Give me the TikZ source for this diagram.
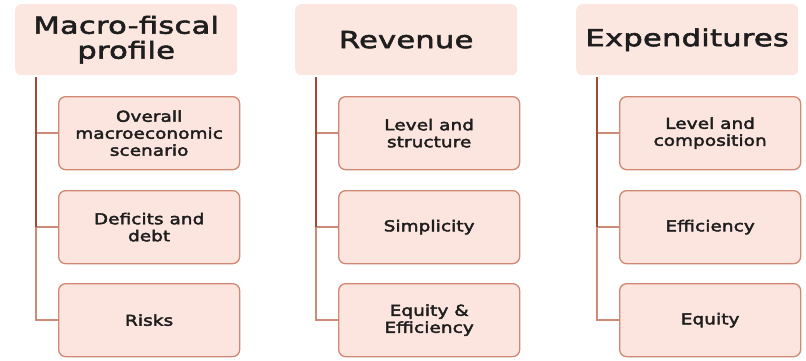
\documentclass[tikz,border=0pt]{standalone}
\usepackage{fontspec}
\setmainfont{DejaVu Sans}
\newfontfamily\hdrfont[FakeStretch=1.3,LetterSpace=1,FakeBold=2.4]{DejaVu Sans}
\newfontfamily\subfont[FakeStretch=1.22,LetterSpace=1,FakeBold=2.8]{DejaVu Sans}
\definecolor{hdrfill}{HTML}{FCE6E0}
\definecolor{boxfill}{HTML}{FCE5DE}
\definecolor{boxline}{HTML}{D08872}
\definecolor{darkline}{HTML}{A34A33}
\definecolor{lightline}{HTML}{CC8A77}
\definecolor{txt}{HTML}{1E1E1E}
\tikzset{
  hdr/.style={rectangle, rounded corners=6pt, fill=hdrfill, draw=none,
    minimum width=222pt, minimum height=71pt, align=center, text=txt,
    font=\hdrfont\fontsize{23.5}{25}\selectfont, anchor=north west, inner sep=0pt},
  sub/.style={rectangle, rounded corners=7pt, fill=boxfill, draw=boxline, line width=1.3pt,
    minimum width=181pt, minimum height=73pt, align=center, text=txt,
    font=\subfont\fontsize{15}{17}\selectfont, anchor=north west, inner sep=0pt},
  trunk/.style={darkline, line width=2pt},
  twig/.style={lightline, line width=1.4pt},
}
\begin{document}
\begin{tikzpicture}[x=1pt,y=-1pt]
\useasboundingbox (0,0) rectangle (806,360);
% column 1
\node[hdr] (h1) at (15,4) {Macro-fiscal\\profile};
\node[sub] (a1) at (58,96) {Overall\\macroeconomic\\scenario};
\node[sub] (a2) at (58,190) {Deficits and\\debt};
\node[sub] (a3) at (58,283) {Risks};
% column 2
\node[hdr] (h2) at (295,4) {Revenue};
\node[sub] (b1) at (338,96) {Level and\\structure};
\node[sub] (b2) at (338,190) {Simplicity};
\node[sub] (b3) at (338,283) {Equity \&\\Efficiency};
% column 3
\node[hdr] (h3) at (576,4) {Expenditures};
\node[sub] (c1) at (619,96) {Level and\\composition};
\node[sub] (c2) at (619,190) {Efficiency};
\node[sub] (c3) at (619,283) {Equity};
% connectors
\foreach \h/\p/\q/\r/\xx in {h1/a1/a2/a3/36, h2/b1/b2/b3/316, h3/c1/c2/c3/597}{
  \coordinate (t\h) at (\xx,77);
  \coordinate (m\h) at (\p.west -| t\h);
  \coordinate (n\h) at (\q.west -| t\h);
  \coordinate (o\h) at (\r.west -| t\h);
  \draw[twig] (n\h) -- (o\h) -- (\r.west);
  \draw[twig] (m\h) -- (\p.west);
  \draw[twig] (n\h) -- (\q.west);
  \draw[trunk] (t\h) -- (n\h);
}
\end{tikzpicture}
\end{document}
